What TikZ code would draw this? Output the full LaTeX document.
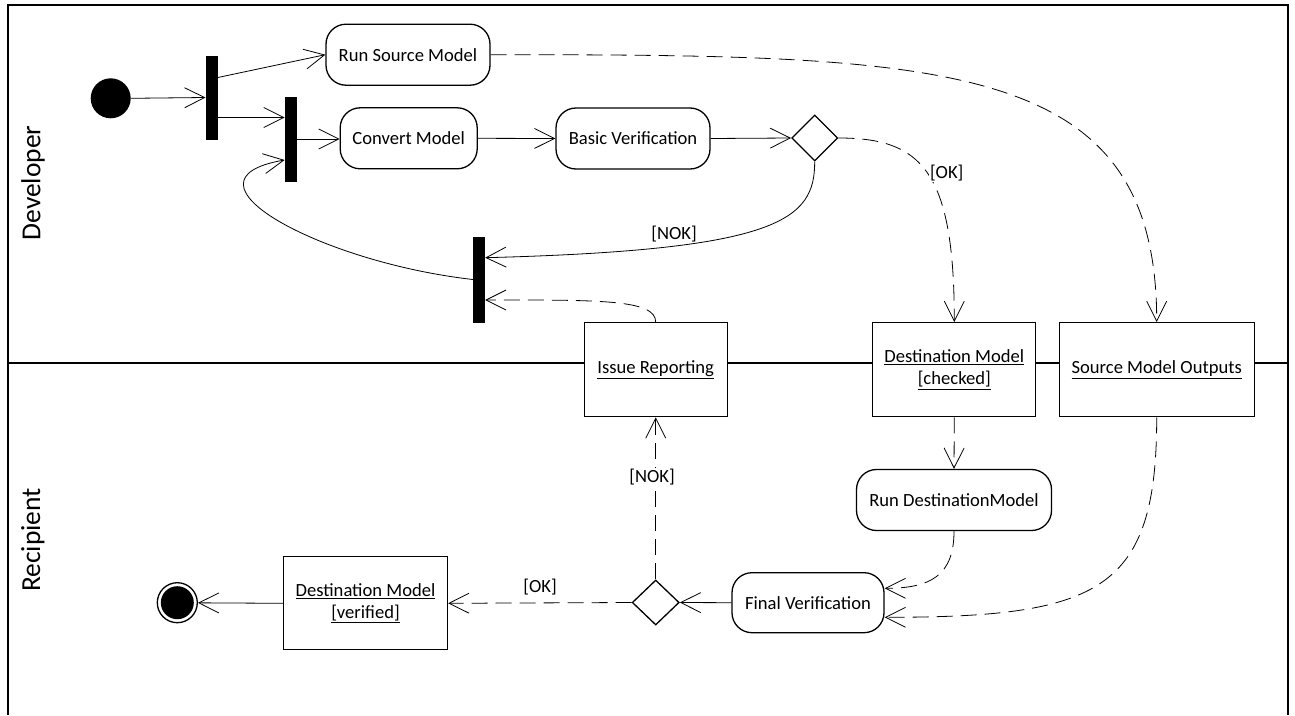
\documentclass[tikz,border=0pt]{standalone}
\usepackage{fontspec}
\setmainfont{Carlito}
\usetikzlibrary{arrows.meta,shapes.geometric}
\begin{document}
\begin{tikzpicture}[x=1pt,y=-1pt,
 lbl/.style={font=\fontsize{18.6}{22}\selectfont},
 act/.style={draw, line width=1.3pt, rounded corners=20pt, minimum height=61pt, inner sep=0pt, lbl, fill=white},
 obj/.style={draw, line width=1.3pt, minimum height=94pt, inner sep=0pt, lbl, fill=white, align=center},
 bar/.style={fill=black, inner sep=0pt, minimum width=12pt, minimum height=85pt},
 dec/.style={draw, diamond, line width=1.3pt, minimum width=46pt, minimum height=46pt, inner sep=0pt, fill=white},
 flow/.style={line width=0.8pt, -{Straight Barb[length=20pt,width=20pt]}},
 dflow/.style={flow, dash pattern=on 16pt off 8pt},
 lane/.style={line width=1.3pt},
 guard/.style={lbl, inner sep=1pt},
 lanelbl/.style={rotate=90, font=\fontsize{27.5}{30}\selectfont}
]
\useasboundingbox (0,0) rectangle (1295,715);
\fill[white] (0,0) rectangle (1295,715);
% swimlanes
\draw[lane] (8,715) -- (8,5) -- (1288,5) -- (1288,715);
\draw[lane] (8,363) -- (1288,363);
\node[lanelbl] (devlbl) at (33,183) {Developer};
\node[lanelbl] (reclbl) at (33,540) {Recipient};
% nodes
\node[circle, fill=black, minimum size=40pt, inner sep=0pt] (start) at (110.7,98.3) {};
\node[bar, minimum height=84pt] (f1) at (211.7,97.5) {};
\node[bar] (f2) at (290.8,139) {};
\node[bar, minimum height=86pt] (f3) at (479,279.5) {};
\node[act, minimum width=164pt] (rsm) at (408,54.7) {Run Source Model};
\node[act, minimum width=137pt] (cm) at (408.7,138.3) {Convert Model};
\node[act, minimum width=154pt] (bv) at (633,138.5) {Basic Verification};
\node[dec] (d1) at (814.7,138) {};
\node[obj, minimum width=143pt] (ir) at (655.7,369.7) {\underline{Issue Reporting}};
\node[obj, minimum width=163pt] (dmc) at (954.3,369.7) {\underline{Destination Model}\\\underline{[checked]}};
\node[obj, minimum width=195pt] (smo) at (1156.7,369.7) {\underline{Source Model Outputs}};
\node[act, minimum width=195pt] (rdm) at (954,500) {Run DestinationModel};
\node[act, minimum width=152pt, minimum height=60pt] (fv) at (808,602.7) {Final Verification};
\node[dec, minimum height=45pt, minimum width=47pt] (d2) at (655.7,602.5) {};
\node[obj, minimum width=164pt, minimum height=93pt] (dmv) at (365.5,603.3) {\underline{Destination Model}\\\underline{[verified]}};
\node[circle, draw, line width=1.3pt, minimum size=40pt, inner sep=0pt] (end) at (177.3,602.7) {};
\node[circle, fill=black, minimum size=33pt, inner sep=0pt] (endin) at (end.center) {};
% connectors
\draw[flow] (start.east) -- (f1.west);
\draw[flow] ([yshift=20pt]f1.east) -- (rsm.west);
\draw[flow] ([yshift=-20pt]f1.east) -- ([yshift=-20pt]f1.east -| f2.west);
\draw[flow] (f2.east) -- (f2.east -| cm.west);
\draw[flow] (cm.east) -- (bv.west);
\draw[flow] (bv.east) -- (d1.west);
\draw[flow] (d1.south) .. controls +(0,58) and +(295,-7.7) .. ([yshift=21.8pt]f3.east);
\node[guard] (nok1) at (674,234) {[NOK]};
\draw[flow] (f3.west) .. controls +(-153.3,-17.5) and +(-115,20) .. ([yshift=-21pt]f2.west);
\draw[dflow] (ir.north) .. controls +(0,-22.7) and +(115,0) .. ([yshift=-20.5pt]f3.east);
\draw[dflow] (rsm.east) .. controls +(460,0) and +(0,-262.7) .. (smo.north);
\draw[dflow] (d1.east) .. controls +(82.3,0) and +(0,-152.7) .. (dmc.north);
\node[guard, fill=white] (ok1) at (946.7,173.3) {[OK]};
\draw[dflow] (dmc.south) -- (rdm.north);
\draw[dflow] (rdm.south) .. controls +(0,44.3) and +(46,0) .. ([yshift=14.4pt]fv.east);
\draw[dflow] (smo.south) .. controls +(0,173.3) and +(216,0) .. ([yshift=-14.6pt]fv.east);
\draw[flow] (fv.west) -- (d2.east);
\draw[dflow] (d2.north) -- (ir.south);
\node[guard, fill=white] (nok2) at (652,476.7) {[NOK]};
\draw[dflow] (d2.west) -- (dmv.east);
\node[guard] (ok2) at (540,586.7) {[OK]};
\draw[flow] (dmv.west) -- (end);
\end{tikzpicture}
\end{document}
